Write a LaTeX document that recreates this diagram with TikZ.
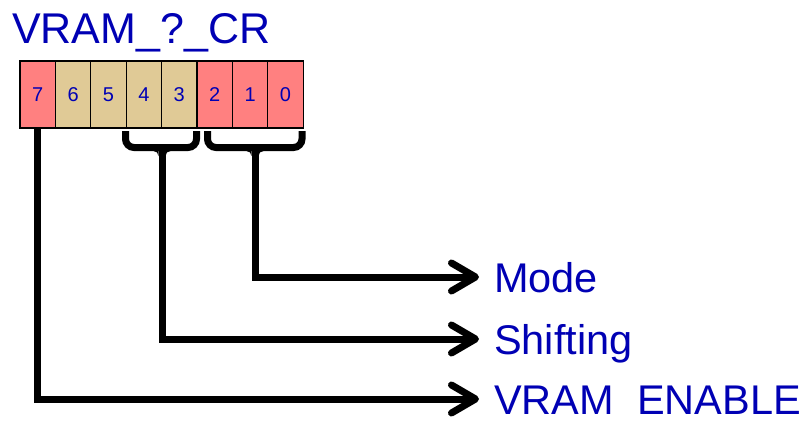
\documentclass[tikz,border=0pt]{standalone}
\usepackage{fontspec}
\setmainfont{Liberation Sans}
\usetikzlibrary{arrows.meta}
\definecolor{txtblue}{RGB}{0,0,180}
\definecolor{bitpink}{RGB}{255,128,128}
\definecolor{bittan}{RGB}{224,202,150}
\tikzset{
  bitbox/.style={draw=black, line width=1.3pt, minimum width=35.4pt, minimum height=67pt,
    inner sep=0pt, font=\fontsize{20}{24}\selectfont, text=txtblue},
  conn/.style={line width=7pt, -{Straight Barb[round,length=24pt,width=28pt]}},
  bracepath/.style={line width=7pt},
  lbl/.style={anchor=west, inner xsep=15pt, inner ysep=0pt, text height=30pt, text depth=0pt,
    font=\fontsize{41.5}{50}\selectfont, text=txtblue}
}
\newcommand{\myfillet}[2]{%
  \fill (#1-3.5,#2) -- (#1-8.5,#2) .. controls (#1-5.74,#2) and (#1-3.5,#2+2.24) .. (#1-3.5,#2+5) -- cycle;
  \fill (#1+3.5,#2) -- (#1+8.5,#2) .. controls (#1+5.74,#2) and (#1+3.5,#2+2.24) .. (#1+3.5,#2+5) -- cycle;}
\newcommand{\mybrace}[3]{% left x, right x, y of horizontal
  \draw[bracepath] (#1,131) -- (#1,#3-8.5) .. controls (#1,#3-3.8) and (#1+3.8,#3) .. (#1+8.5,#3)
    -- (#2-8.5,#3) .. controls (#2-3.8,#3) and (#2,#3-3.8) .. (#2,#3-8.5) -- (#2,131);}
\begin{document}
\begin{tikzpicture}[x=1pt,y=-1pt]
\useasboundingbox (0,0) rectangle (809,421);
\node[anchor=base west, inner sep=0pt, font=\fontsize{43}{50}\selectfont, text=txtblue] (title) at (12,43) {VRAM\_?\_CR};
% bit boxes
\node[bitbox, fill=bitpink] (b7) at (37.7,94.5) {7};
\node[bitbox, fill=bittan] (b6) at (73.1,94.5) {6};
\node[bitbox, fill=bittan] (b5) at (108.5,94.5) {5};
\node[bitbox, fill=bittan] (b4) at (143.9,94.5) {4};
\node[bitbox, fill=bittan] (b3) at (179.3,94.5) {3};
\node[bitbox, fill=bitpink] (b2) at (214.7,94.5) {2};
\node[bitbox, fill=bitpink] (b1) at (250.1,94.5) {1};
\node[bitbox, fill=bitpink] (b0) at (285.5,94.5) {0};
% labels
\node[lbl] (mode) at (479,277) {Mode};
\node[lbl] (shift) at (479,339) {Shifting};
\node[lbl] (enable) at (479,399) {VRAM~~ENABLE};
% braces
\mybrace{125.5}{196.5}{147.5}
\mybrace{207.5}{302}{147.5}
\coordinate (s43) at (162,147.5);
\coordinate (s20) at (255,147.5);
\myfillet{162}{151}
\myfillet{255}{151}
% connectors
\draw[conn] (b7.south) |- (enable.west);
\draw[conn] (s43) |- (shift.west);
\draw[conn] (s20) |- (mode.west);
\end{tikzpicture}
\end{document}
